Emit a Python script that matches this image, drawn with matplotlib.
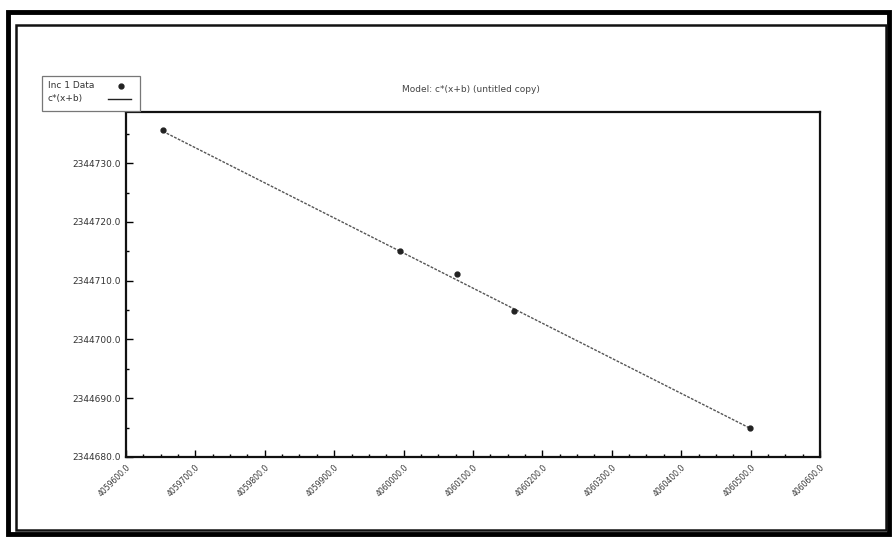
import numpy as np
import matplotlib.pyplot as plt
from matplotlib.patches import Rectangle
from matplotlib.lines import Line2D
from matplotlib.ticker import AutoMinorLocator, FormatStrFormatter

x_data = [4059653.3, 4059994.8, 4060076.9, 4060159.1, 4060499.1]
y_data = [2344735.6, 2344715.0, 2344711.1, 2344704.8, 2344684.9]

# fitted model line, end points
x_fit = [4059653.3, 4060499.1]
y_fit = [2344735.4, 2344684.9]

x_ticks = [4059600.0, 4059700.0, 4059800.0, 4059900.0, 4060000.0, 4060100.0,
           4060200.0, 4060300.0, 4060400.0, 4060500.0, 4060600.0]
y_ticks = [2344680.0, 2344690.0, 2344700.0, 2344710.0, 2344720.0, 2344730.0]

title = "Model: c*(x+b) (untitled copy)"
data_label = "Inc 1 Data"
fit_label = "c*(x+b)"

W, H = 894.0, 541.0
fig = plt.figure(figsize=(W / 100, H / 100), dpi=100)
ax = fig.add_axes([0.1409, 0.1553, 0.7763, 0.6377])

fit_style = dict(color='#555555', lw=1.0, linestyle=(0, (2, 1)))
pt_style = dict(linestyle='none', marker='o', ms=3.5, color='#222222')
ax.plot(x_fit, y_fit, **fit_style)
ax.plot(x_data, y_data, **pt_style)

ax.set_xlim(4059600.0, 4060600.0)
ax.set_ylim(2344680.0, 2344738.7)
ax.set_xticks(x_ticks)
ax.set_yticks(y_ticks)
ax.xaxis.set_major_formatter(FormatStrFormatter('%.1f'))
ax.yaxis.set_major_formatter(FormatStrFormatter('%.1f'))
ax.xaxis.set_minor_locator(AutoMinorLocator(4))
ax.yaxis.set_minor_locator(AutoMinorLocator(2))
ax.tick_params(which='both', direction='in', labelcolor='#333333', width=1.0)
ax.tick_params(axis='y', labelsize=6.5)
ax.tick_params(axis='x', labelsize=5.5, pad=4)
ax.tick_params(which='major', length=5)
ax.tick_params(which='minor', length=2.5)
for lab in ax.get_xticklabels():
    lab.set_rotation(45)
    lab.set_ha('right')
    lab.set_rotation_mode('anchor')
for sp in ax.spines.values():
    sp.set_linewidth(1.6)
    sp.set_color('#111111')

fig.text(0.527, 1 - 90 / H, title, fontsize=6.5, color='#444444', ha='center', va='center')

# legend box: text on the left, symbol on the right
fig.add_artist(Rectangle((42 / W, 1 - 111 / H), 98 / W, 35 / H, transform=fig.transFigure,
                         fill=True, fc='white', lw=0.9, ec='#777777'))
fig.text(48 / W, 1 - 86 / H, data_label, fontsize=6.5, color='#333333', va='center')
fig.text(48 / W, 1 - 99 / H, fit_label, fontsize=6.5, color='#333333', va='center')
fig.add_artist(Line2D([121 / W], [1 - 86 / H], transform=fig.transFigure, **pt_style))
fig.add_artist(Line2D([108 / W, 131 / W], [1 - 99 / H, 1 - 99 / H], transform=fig.transFigure,
                      color='#222222', lw=1.0))

# double frame around the picture
fig.add_artist(Rectangle((8 / W, 1 - 534 / H), (889 - 8) / W, (534 - 12) / H,
                         transform=fig.transFigure, fill=False, lw=3.5, ec='black'))
fig.add_artist(Rectangle((16 / W, 1 - 530 / H), (886 - 16) / W, (530 - 25) / H,
                         transform=fig.transFigure, fill=False, lw=1.8, ec='#111111'))

fig.savefig('out.png', dpi=100)
